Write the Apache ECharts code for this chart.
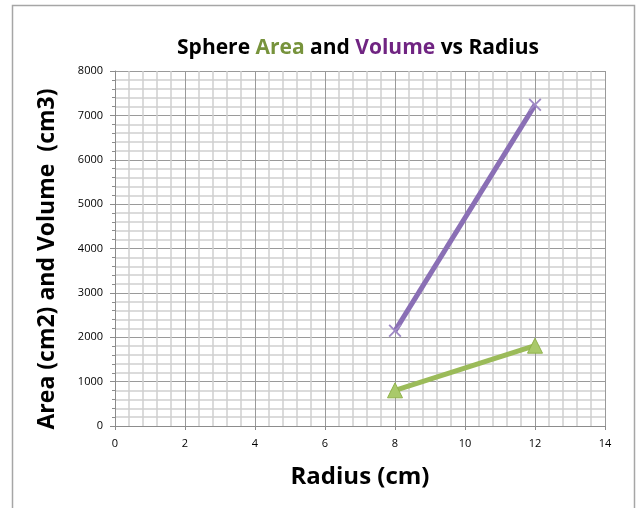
<!DOCTYPE html>
<html>
<head>
<meta charset="utf-8">
<script src="https://cdn.jsdelivr.net/npm/echarts@6/dist/echarts.min.js"></script>
<style>
  html, body { margin: 0; padding: 0; background: #fff; }
  #chart { width: 641px; height: 508px; }
</style>
</head>
<body>
<div id="chart"></div>
<script>
// data
const radius = [8, 12];
const area = [804, 1810];
const volume = [2145, 7238];
const xTicks = [0, 2, 4, 6, 8, 10, 12, 14];
const yTicks = [0, 1000, 2000, 3000, 4000, 5000, 6000, 7000, 8000];

var myChart = echarts.init(document.getElementById("chart"));

const font = "'Open Sans', 'Noto Sans', sans-serif";
const crossPath = "path://M0,1L1,0L5,4L9,0L10,1L6,5L10,9L9,10L5,6L1,10L0,9L4,5Z";

myChart.setOption({
  animation: false,
  title: {
    text: "{b|Sphere }{g|Area}{b| and }{p|Volume}{b| vs Radius}",
    left: 353,
    top: 33,
    textAlign: "center",
    textStyle: {
      rich: {
        b: { fontFamily: font, fontSize: 21, fontWeight: "bold", color: "#000" },
        g: { fontFamily: font, fontSize: 21, fontWeight: "bold", color: "#77933c" },
        p: { fontFamily: font, fontSize: 21, fontWeight: "bold", color: "#702482" },
      },
    },
  },
  grid: { left: 115, right: 36, top: 71, bottom: 82 },
  xAxis: {
    type: "value",
    min: xTicks[0],
    max: xTicks[xTicks.length - 1],
    interval: 2,
    name: "Radius (cm)",
    nameLocation: "middle",
    nameGap: 39,
    nameTextStyle: { fontFamily: font, fontSize: 24, fontWeight: "bold", color: "#000" },
    axisLine: { lineStyle: { color: "#8c8c8c", width: 1 } },
    axisTick: { show: true, length: 4, lineStyle: { color: "#8c8c8c" } },
    axisLabel: { fontFamily: font, fontSize: 11, color: "#000", margin: 12 },
    splitLine: { show: true, lineStyle: { color: "#9a9a9a", width: 1 } },
    minorTick: { show: false, splitNumber: 5 },
    minorSplitLine: { show: true, lineStyle: { color: "#cfcfcf", width: 1.5 } },
  },
  yAxis: {
    type: "value",
    min: yTicks[0],
    max: yTicks[yTicks.length - 1],
    interval: 1000,
    axisLine: { show: true, lineStyle: { color: "#8c8c8c", width: 1 } },
    axisTick: { show: true, length: 5, lineStyle: { color: "#8c8c8c" } },
    axisLabel: { fontFamily: font, fontSize: 11, color: "#000", margin: 12, formatter: (v) => String(v) },
    splitLine: { show: true, lineStyle: { color: "#9a9a9a", width: 1 } },
    minorTick: { show: true, splitNumber: 5, length: 3, lineStyle: { color: "#8c8c8c" } },
    minorSplitLine: { show: true, lineStyle: { color: "#cfcfcf", width: 1.5 } },
  },
  series: [
    {
      name: "Area",
      type: "line",
      data: radius.map((r, i) => [r, area[i]]),
      symbol: "triangle",
      symbolSize: 15,
      lineStyle: { color: "#9bbb59", width: 5 },
      itemStyle: { color: "#a9c96a", borderColor: "#8fb14a", borderWidth: 1 },
    },
    {
      name: "Volume",
      type: "line",
      data: radius.map((r, i) => [r, volume[i]]),
      symbol: crossPath,
      symbolSize: 13,
      lineStyle: { color: "#8a6fb5", width: 5 },
      itemStyle: { color: "#a08bc6" },
    },
  ],
  graphic: [
    {
      type: "rect",
      shape: { x: 12.5, y: 5.5, width: 622, height: 520 },
      style: { fill: "none", stroke: "#a6a6a6", lineWidth: 1.5 },
      silent: true,
    },
    {
      type: "text",
      x: 47,
      y: 259,
      rotation: Math.PI / 2,
      style: {
        text: "Area (cm2) and Volume  (cm3)",
        fontFamily: font,
        fontSize: 23,
        fontWeight: "bold",
        fill: "#000",
        align: "center",
        verticalAlign: "middle",
      },
      silent: true,
    },
  ],
});
</script>
</body>
</html>
